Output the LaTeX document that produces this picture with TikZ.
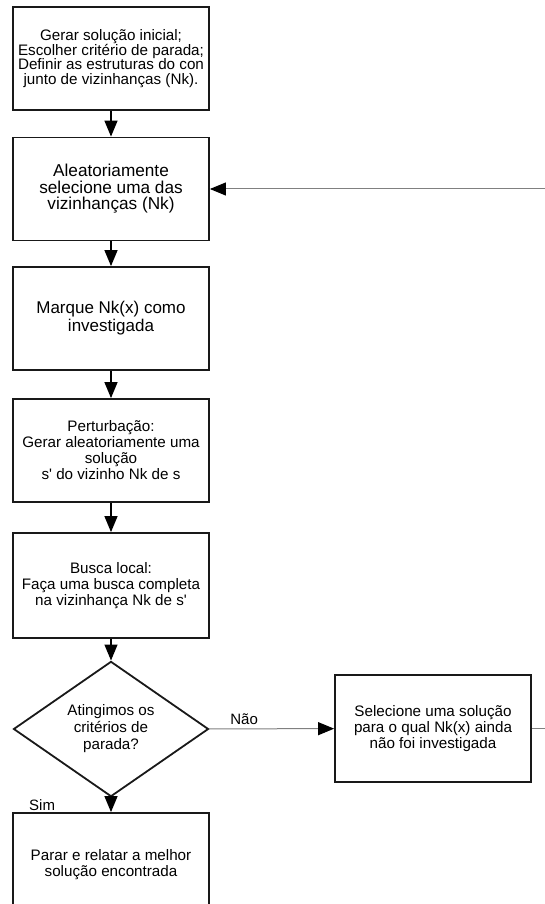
\documentclass[tikz,border=0pt]{standalone}
\usepackage{fontspec}
\setmainfont{Liberation Sans}
\usetikzlibrary{arrows.meta,shapes}

\begin{document}
\begin{tikzpicture}[x=1pt,y=-1pt,->,>={Triangle[width=13pt,length=16pt,color=black]},auto,line width=1.3pt,
        box/.style={rectangle,draw=black!90,line width=1.8pt,minimum width=196pt,minimum height=103pt,
          align=center,font=\fontsize{15.2}{16}\selectfont},
        test/.style={diamond,draw=black!90,line width=1.8pt,minimum width=195pt,minimum height=106pt,
          inner sep=0pt,align=center,font=\fontsize{15.2}{17}\selectfont},
        thinline/.style={line width=1pt,draw=black!50}]
        \clip (0,0) rectangle (545,904);
        \node[box,font=\fontsize{15.2}{14.5}\selectfont] (1) at (111,58.5) {Gerar solução inicial;\\Escolher critério de parada;\\Definir as estruturas do con\\junto de vizinhanças (Nk).};
        \node[box,font=\fontsize{17.2}{16.5}\selectfont] (2) at (111,189) {Aleatoriamente\\selecione uma das\\vizinhanças (Nk)};
        \node[box,font=\fontsize{17}{18}\selectfont] (3) at (111,318.5) {Marque Nk(x) como\\investigada};
        \node[box] (4) at (111,450.5) {Perturbação:\\Gerar aleatoriamente uma\\solução\\s\textquotesingle{} do vizinho Nk de s};
        \node[box,minimum height=105pt] (5) at (111,585.5) {Busca local:\\Faça uma busca completa\\na vizinhança Nk de s\textquotesingle};
        \node[test] (d) at (111,729) {Atingimos os\\critérios de\\parada?};
        \node[box,minimum height=107pt] (6) at (433,728.5) {Selecione uma solução\\para o qual Nk(x) ainda\\não foi investigada};
        \node[box] (7) at (111,864.5) {Parar e relatar a melhor\\solução encontrada};
        \coordinate (r6) at (546,728.5);
        \coordinate (r2) at (546,189);
        \path
          (1) edge (2)
          (2) edge (3)
          (3) edge (4)
          (4) edge (5)
          (5) edge (d)
          (d) edge[thinline] node[pos=.28,font=\fontsize{15}{16}\selectfont] {Não} (6)
          (d) edge node[pos=.5,left=52pt,font=\fontsize{15}{16}\selectfont] {Sim} (7)
          (6) edge[-,thinline] (r6)
          (r2) edge[thinline] (2)
          ;
      \end{tikzpicture}
\end{document}
